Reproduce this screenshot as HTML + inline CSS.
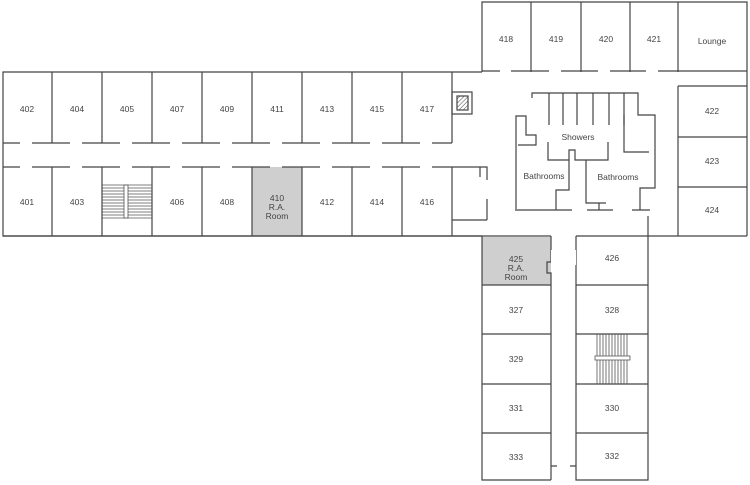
<!DOCTYPE html>
<html><head><style>body{margin:0;background:#fff}svg{display:block}text{font-family:"Liberation Sans",sans-serif;font-size:8.5px;fill:#444;text-anchor:middle}</style></head><body>
<svg width="750" height="485" viewBox="0 0 750 485" xmlns="http://www.w3.org/2000/svg">
<rect x="252" y="167" width="50" height="69" fill="#cfcfcf"/>
<rect x="482" y="237" width="69" height="48" fill="#cfcfcf"/>
<g stroke="#444" stroke-width="1.2" fill="none">
<!-- west wing outer -->
<path d="M482 72 H3 V236 H482"/>
<path d="M452 72 V143 M3 236 H551 M576 236 H747"/>
<!-- top room dividers -->
<path d="M52 72V143 M102 72V143 M152 72V143 M202 72V143 M252 72V143 M302 72V143 M352 72V143 M402 72V143"/>
<path d="M52 167V236 M102 167V236 M152 167V236 M202 167V236 M252 167V236 M302 167V236 M352 167V236 M402 167V236 M452 167V236"/>
<!-- corridor dashes -->
<path d="M3 143H20 M32 143H70 M82 143H120 M132 143H170 M182 143H220 M232 143H270 M282 143H320 M332 143H370 M382 143H420 M432 143H452"/>
<path d="M3 167H20 M32 167H70 M82 167H120 M132 167H170 M182 167H220 M232 167H270 M282 167H320 M332 167H370 M382 167H420 M432 167H452"/>
<!-- north wing -->
<path d="M482 72V2H747V236 M531 2V72 M581 2V72 M630 2V72 M678 2V72"/>
<path d="M482 71H500 M511 71H549 M561 71H598 M610 71H646 M658 71H747"/>
<!-- east rooms -->
<path d="M678 86H747 M678 86V236 M678 137H747 M678 187H747"/>
<!-- elevator -->
<rect x="452" y="92" width="20" height="22"/>
<rect x="457" y="96" width="11" height="14" fill="url(#h)"/>
<!-- small box left of bathrooms -->
<path d="M452 167H480 V177 M480 167H487 V180 M487 199V220 M452 220H487"/>
<!-- bathrooms -->
<path d="M532 98V93H638V98 M549 93V125 M563 93V125 M577 93V125 M593 93V125 M609 93V125 M624 93V125"/>
<path d="M516 209V116H526V135H536V145H518 M548 142V160H569V150H575V160H608V142 M569 160V190H556V210H563 M586 160V203H606 M599 203V210 M515 210H572 M587 210H613 M632 210H650"/>
<path d="M638 98V115H655V188H640V210 M624 115V152H649"/>
<path d="M648 216V236"/>
<!-- south wing -->
<path d="M482 236V480H551 M551 236V262H547V273H551V480 M576 236V480H648V236"/>
<path d="M482 285H551 M482 334H551 M482 384H551 M482 433H551 M576 285H648 M576 334H648 M576 384H648 M576 433H648"/>
<path d="M551 466H557 M570 466H576"/>
</g>
<rect x="551" y="250" width="25" height="15" fill="#fff"/>
<defs><pattern id="h" width="3" height="3" patternUnits="userSpaceOnUse" patternTransform="rotate(45)"><line x1="0" y1="0" x2="0" y2="3" stroke="#444" stroke-width="1"/></pattern></defs>
<!-- stairs west -->
<g stroke="#555" stroke-width="0.8">
<path d="M102 185H152 M102 188H152 M102 191H152 M102 194H152 M102 197H152 M102 200H152 M102 203H152 M102 206H152 M102 209H152 M102 212H152 M102 215H152 M102 218H152"/>
<rect x="124" y="185" width="4" height="33" fill="#fff"/>
<path d="M597 334V384 M600 334V384 M603 334V384 M606 334V384 M609 334V384 M612 334V384 M615 334V384 M618 334V384 M621 334V384 M624 334V384 M627 334V384"/>
<rect x="595" y="356" width="35" height="4" fill="#fff"/>
</g>
<text x="27" y="112">402</text><text x="77" y="112">404</text><text x="127" y="112">405</text><text x="177" y="112">407</text><text x="227" y="112">409</text><text x="277" y="112">411</text><text x="327" y="112">413</text><text x="377" y="112">415</text><text x="427" y="112">417</text>
<text x="27" y="205">401</text><text x="77" y="205">403</text><text x="177" y="205">406</text><text x="227" y="205">408</text>
<text x="277" y="201">410</text><text x="277" y="210">R.A.</text><text x="277" y="219">Room</text>
<text x="327" y="205">412</text><text x="377" y="205">414</text><text x="427" y="205">416</text>
<text x="506" y="42">418</text><text x="556" y="42">419</text><text x="606" y="42">420</text><text x="654" y="42">421</text><text x="712" y="44">Lounge</text>
<text x="712" y="114">422</text><text x="712" y="164">423</text><text x="712" y="213">424</text>
<text x="578" y="140">Showers</text><text x="544" y="179">Bathrooms</text><text x="618" y="180">Bathrooms</text>
<text x="516" y="262">425</text><text x="516" y="271">R.A.</text><text x="516" y="280">Room</text>
<text x="612" y="261">426</text>
<text x="516" y="313">327</text><text x="612" y="313">328</text><text x="516" y="362">329</text>
<text x="516" y="411">331</text><text x="612" y="411">330</text><text x="516" y="460">333</text><text x="612" y="459">332</text>
</svg>
</body></html>
